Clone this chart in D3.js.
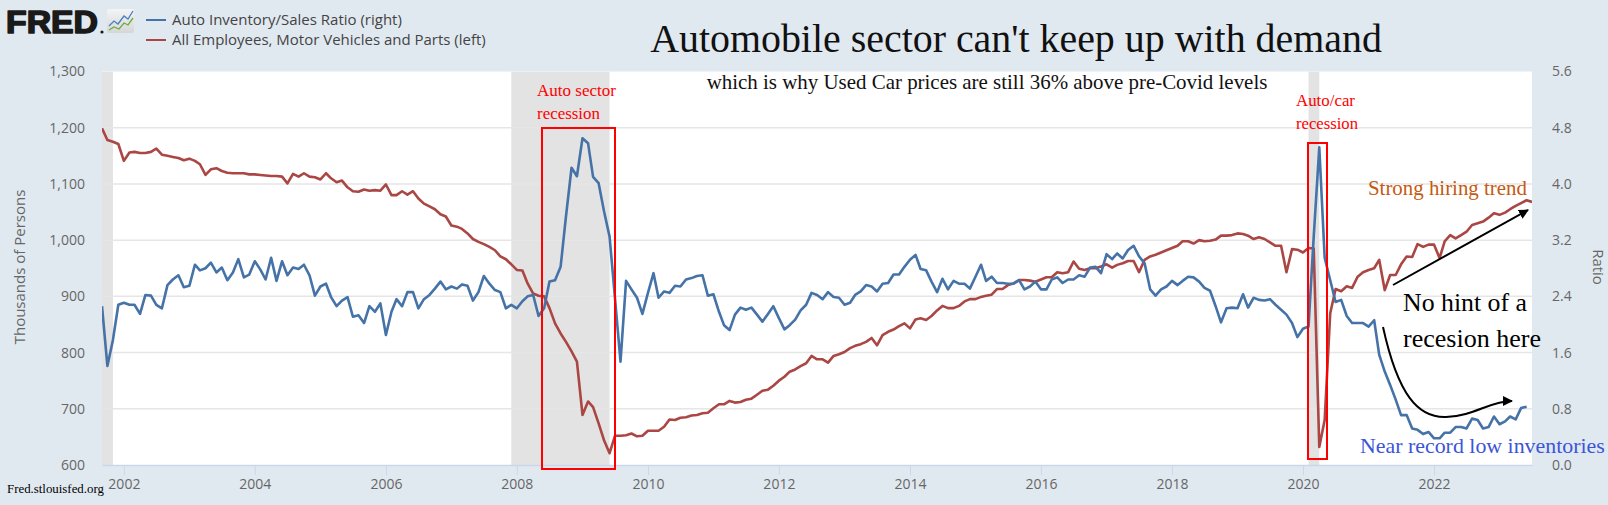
<!DOCTYPE html>
<html><head><meta charset="utf-8">
<script src="https://cdn.jsdelivr.net/npm/d3@7"></script>
<style>
html,body{margin:0;padding:0;background:#e1e9f0;}
svg{display:block;}
</style></head>
<body>
<svg id="c" width="1608" height="505"></svg>
<script>
// ---------- DATA (monthly, starting Sep 2001) ----------
const startMonth = "2001-09";
// All Employees, Motor Vehicles and Parts (thousands) — left axis
const employees = [
1199,1178,1175,1171,1141,1156,1157,1155,1155,1157,1163,1152,1150,1148,1146,1142,1145,1141,1135,1116,
1126,1128,1123,1120,1119,1119,1119,1117,1117,1116,1115,1114,1114,1113,1101,1118,1113,1119,1113,1112,
1108,1119,1110,1103,1106,1094,1087,1086,1090,1088,1089,1088,1099,1080,1080,1087,1081,1087,1074,1065,
1060,1055,1046,1042,1026,1024,1020,1012,1002,997,993,988,982,971,
966,957,947,946,923,905,901,900,879,852,834,819,802,784,689,713,703,674,644,621,
652,652,653,656,651,652,661,661,661,668,681,680,684,685,688,689,692,693,701,708,
708,714,711,712,716,718,725,732,734,741,750,757,766,770,776,781,794,788,788,782,
794,797,801,808,812,815,819,826,813,831,837,841,847,852,843,859,861,858,865,875,
883,879,879,883,891,895,895,899,901,903,913,913,920,923,929,929,928,926,930,934,
934,943,941,943,962,949,947,950,950,953,957,951,956,959,963,963,943,965,971,974,
978,982,986,990,998,998,994,1000,998,999,1001,1008,1008,1009,1012,1011,1008,1002,1005,1002,
996,990,990,943,984,983,978,986,985,
632,680,870,913,909,918,915,935,943,947,950,965,911,938,938,957,971,970,993,988,
992,992,968,998,1009,1003,1009,1015,1027,1030,1033,1040,1048,1045,1049,1055,1061,1066,1071,1068
];
// Auto Inventory/Sales Ratio — right axis
const ratio = [
2.26,1.41,1.78,2.28,2.31,2.28,2.28,2.15,2.42,2.41,2.28,2.23,2.56,2.64,2.70,2.53,2.55,2.85,2.77,2.80,
2.88,2.74,2.81,2.63,2.74,2.93,2.67,2.71,2.90,2.78,2.64,2.95,2.62,2.90,2.70,2.81,2.79,2.85,2.70,2.41,
2.54,2.58,2.39,2.26,2.34,2.39,2.11,2.13,2.02,2.26,2.18,2.30,1.85,2.18,2.36,2.26,2.46,2.46,2.23,2.36,
2.42,2.51,2.61,2.50,2.54,2.51,2.57,2.55,2.34,2.46,2.69,2.58,2.49,2.46,
2.23,2.28,2.23,2.33,2.40,2.42,2.12,2.23,2.61,2.63,2.82,3.54,4.23,4.11,4.65,4.58,4.10,4.01,3.61,3.25,
2.38,1.47,2.62,2.50,2.38,2.15,2.45,2.73,2.38,2.47,2.45,2.55,2.54,2.64,2.66,2.69,2.70,2.41,2.43,2.18,
1.99,1.92,2.14,2.24,2.21,2.24,2.14,2.04,2.15,2.26,2.09,1.93,1.99,2.07,2.20,2.28,2.45,2.42,2.36,2.46,
2.39,2.38,2.28,2.31,2.42,2.47,2.56,2.54,2.47,2.58,2.59,2.71,2.71,2.82,2.92,2.99,2.79,2.77,2.61,2.46,
2.65,2.50,2.62,2.58,2.58,2.51,2.68,2.85,2.62,2.68,2.59,2.59,2.58,2.58,2.63,2.50,2.54,2.61,2.50,2.50,
2.64,2.67,2.59,2.64,2.64,2.70,2.68,2.81,2.82,2.73,3.00,2.93,3.01,2.94,3.06,3.12,2.97,2.87,2.50,2.41,
2.50,2.54,2.62,2.56,2.62,2.68,2.67,2.61,2.52,2.48,2.26,2.03,2.23,2.24,2.23,2.43,2.24,2.38,2.35,2.34,
2.36,2.28,2.21,2.14,2.02,1.82,1.94,1.97,
3.25,4.52,2.95,2.63,2.32,2.35,2.12,2.02,2.02,2.02,1.97,2.06,1.57,1.33,1.14,0.93,0.71,0.71,0.52,0.50,
0.44,0.47,0.38,0.38,0.46,0.46,0.54,0.54,0.52,0.66,0.64,0.52,0.54,0.69,0.58,0.62,0.69,0.65,0.81,0.83
];
const recessions = [["2001-03","2001-11"],["2007-12","2009-06"],["2020-02","2020-04"]];
const leftTicks = [600,700,800,900,1000,1100,1200,1300];
const rightTicks = [0,0.8,1.6,2.4,3.2,4.0,4.8,5.6];
const xTickYears = [2002,2004,2006,2008,2010,2012,2014,2016,2018,2020,2022];
const legendLabels = ["Auto Inventory/Sales Ratio (right)","All Employees, Motor Vehicles and Parts (left)"];
const title = "Automobile sector can't keep up with demand";
const subtitle = "which is why Used Car prices are still 36% above pre-Covid levels";

// ---------- LAYOUT ----------
const svg = d3.select("#c");
const P = {l:102, r:1532, t:71.5, b:465};
const parseM = d3.timeParse("%Y-%m");
const t0 = parseM(startMonth);
const dateAt = i => d3.timeMonth.offset(t0, i);
const x = d3.scaleTime().domain([t0, dateAt(employees.length-1)]).range([P.l, P.r]);
const yL = d3.scaleLinear().domain([600,1300]).range([P.b, P.t]);
const yR = d3.scaleLinear().domain([0,5.6]).range([P.b, P.t]);
const blue = "#4572a7", red = "#aa4643";
const sans = "'Open Sans', sans-serif", serif = "'Liberation Serif','Times New Roman',serif";

svg.append("rect").attr("width",1608).attr("height",505).attr("fill","#e1e9f0");
svg.append("rect").attr("x",P.l).attr("y",P.t).attr("width",P.r-P.l).attr("height",P.b-P.t).attr("fill","#fff");

const defs = svg.append("defs");
defs.append("clipPath").attr("id","pc").append("rect")
  .attr("x",P.l).attr("y",P.t).attr("width",P.r-P.l).attr("height",P.b-P.t);

// recessions
svg.append("g").attr("clip-path","url(#pc)").selectAll("rect").data(recessions).join("rect")
  .attr("x",d=>x(parseM(d[0]))).attr("width",d=>x(parseM(d[1]))-x(parseM(d[0])))
  .attr("y",P.t).attr("height",P.b-P.t).attr("fill","#e3e3e3");

// gridlines
svg.append("g").selectAll("line").data(leftTicks.filter(v=>v>600&&v<1300)).join("line")
  .attr("x1",P.l).attr("x2",P.r).attr("y1",d=>yL(d)).attr("y2",d=>yL(d))
  .attr("stroke","#e6e6e6").attr("stroke-width",1.5);

// x axis
const xa = svg.append("g").attr("transform",`translate(0,${P.b})`)
  .call(d3.axisBottom(x).tickValues(xTickYears.map(y=>new Date(y,0,1))).tickFormat(d3.timeFormat("%Y")).tickSize(10).tickSizeOuter(0));
xa.select(".domain").attr("stroke","#ccd6eb").attr("stroke-width",1.5);
xa.selectAll(".tick line").attr("stroke","#ccd6eb");
xa.selectAll("text").attr("fill","#666").attr("font-family",sans).attr("font-size",14).attr("y",14).attr("dy","0.71em");

// left axis
const la = svg.append("g").attr("transform",`translate(${P.l},0)`)
  .call(d3.axisLeft(yL).tickValues(leftTicks).tickFormat(d3.format(",")).tickSize(0));
la.select(".domain").remove();
la.selectAll("text").attr("fill","#666").attr("font-family",sans).attr("font-size",14).attr("x",-17);

// right axis
const ra = svg.append("g").attr("transform",`translate(${P.r},0)`)
  .call(d3.axisRight(yR).tickValues(rightTicks).tickFormat(d3.format(".1f")).tickSize(0));
ra.select(".domain").remove();
ra.selectAll("text").attr("fill","#666").attr("font-family",sans).attr("font-size",14).attr("x",20);

svg.append("text").attr("transform","translate(25,267) rotate(-90)").attr("text-anchor","middle")
  .attr("font-family",sans).attr("font-size",15).attr("fill","#666").text("Thousands of Persons");
svg.append("text").attr("transform","translate(1593,267) rotate(90)").attr("text-anchor","middle")
  .attr("font-family",sans).attr("font-size",15).attr("fill","#666").text("Ratio");

// lines
const g = svg.append("g").attr("clip-path","url(#pc)");
g.append("path").datum(employees).attr("fill","none").attr("stroke",red).attr("stroke-width",2.6)
  .attr("stroke-linejoin","round").attr("d",d3.line().x((d,i)=>x(dateAt(i))).y(d=>yL(d)));
g.append("path").datum(ratio).attr("fill","none").attr("stroke",blue).attr("stroke-width",2.6)
  .attr("stroke-linejoin","round").attr("d",d3.line().x((d,i)=>x(dateAt(i))).y(d=>yR(d)));

// ---------- header ----------
const logo = svg.append("g");
logo.append("text").attr("x",6).attr("y",33).attr("font-family","'Liberation Sans',Arial,sans-serif")
  .attr("font-weight",700).attr("font-size",32).attr("textLength",92).attr("lengthAdjust","spacingAndGlyphs")
  .attr("fill","#1a1a1a").attr("stroke","#1a1a1a").attr("stroke-width",1.6).attr("stroke-linejoin","round").text("FRED");
logo.append("circle").attr("cx",102).attr("cy",32).attr("r",1.6).attr("fill","#1a1a1a");
const grad = defs.append("linearGradient").attr("id","lg").attr("x1",0).attr("y1",0).attr("x2",0).attr("y2",1);
grad.append("stop").attr("offset","0").attr("stop-color","#f4f4f4");
grad.append("stop").attr("offset","1").attr("stop-color","#d6d6d6");
logo.append("rect").attr("x",107).attr("y",9).attr("width",27).attr("height",24).attr("rx",2).attr("fill","url(#lg)");
logo.append("polyline").attr("points","109,26 114,21 118,24 124,16 128,19 133,11").attr("fill","none").attr("stroke","#4a7fc1").attr("stroke-width",1.3);
logo.append("polyline").attr("points","109,30 114,27 119,29 124,23 128,25 133,18").attr("fill","none").attr("stroke","#6cae3c").attr("stroke-width",1.3);

function fit(sel, w){ const n = sel.node(); const cur = +sel.attr("font-size"); const len = n.getComputedTextLength(); sel.attr("font-size", cur*w/len); }

const leg = svg.append("g");
const legW = [230, 314];
[[blue,20],[red,40]].forEach((c,i)=>{
  leg.append("line").attr("x1",146).attr("x2",166).attr("y1",c[1]).attr("y2",c[1]).attr("stroke",c[0]).attr("stroke-width",2);
  const t = leg.append("text").attr("x",172).attr("y",c[1]+5).attr("font-family",sans).attr("font-size",14)
    .attr("fill","#444").text(legendLabels[i]);
  fit(t, legW[i]);
});

const tt = svg.append("text").attr("x",1016).attr("y",52).attr("text-anchor","middle").attr("font-family",serif)
  .attr("font-size",40).attr("fill","#111").text(title);
fit(tt,732);
const st = svg.append("text").attr("x",987).attr("y",89).attr("text-anchor","middle").attr("font-family",serif)
  .attr("font-size",19).attr("fill","#111").text(subtitle);
fit(st,561);

// ---------- annotations ----------
const ann = svg.append("g");
ann.append("rect").attr("x",542).attr("y",128).attr("width",73).attr("height",341).attr("fill","none").attr("stroke","#ff0000").attr("stroke-width",2);
ann.append("rect").attr("x",1308).attr("y",143).attr("width",19).attr("height",316).attr("fill","none").attr("stroke","#ff0000").attr("stroke-width",2);
function txt(x,y,s,size,color,w){ const t=ann.append("text").attr("x",x).attr("y",y).attr("font-family",serif).attr("font-size",size).attr("fill",color).text(s); if(w) fit(t,w); return t; }
txt(537,96,"Auto sector",16,"#ff0000",79);
txt(537,119,"recession",16,"#ff0000",63);
txt(1296,106,"Auto/car",16,"#ff0000",59);
txt(1296,129,"recession",16,"#ff0000",62);
txt(1368,195,"Strong hiring trend",20,"#c55a11",159);
txt(1403,311,"No hint of a",26,"#000",124);
txt(1403,347,"recesion here",26,"#000",138);
txt(1360,453,"Near record low inventories",20,"#3b55d9",245);
const src = svg.append("text").attr("x",7).attr("y",493).attr("font-family",serif).attr("font-size",13.5).attr("fill","#000").text("Fred.stlouisfed.org");
fit(src,97);

defs.append("marker").attr("id","ah").attr("viewBox","0 0 10 10").attr("refX",9).attr("refY",5)
  .attr("markerWidth",5).attr("markerHeight",5).attr("orient","auto")
  .append("path").attr("d","M0,0 L10,5 L0,10 z").attr("fill","#000");
ann.append("line").attr("x1",1393).attr("y1",285).attr("x2",1528).attr("y2",210)
  .attr("stroke","#000").attr("stroke-width",2).attr("marker-end","url(#ah)");
ann.append("path").attr("d","M1383,327 C1398,395 1418,418 1446,417 C1474,416 1490,401 1512,401")
  .attr("fill","none").attr("stroke","#000").attr("stroke-width",2).attr("marker-end","url(#ah)");
</script>
</body></html>
